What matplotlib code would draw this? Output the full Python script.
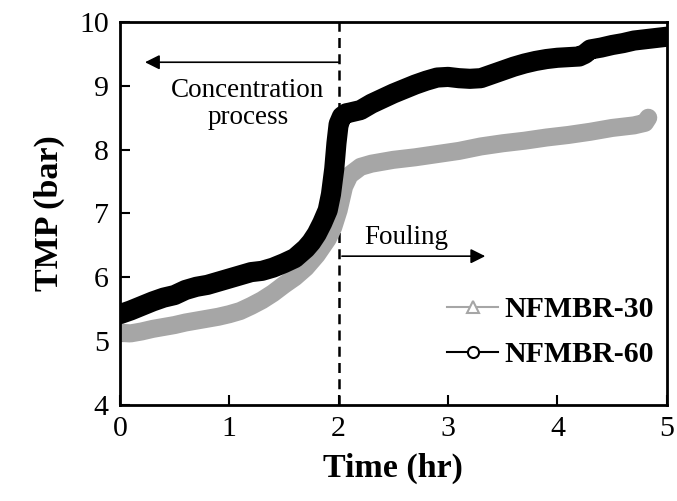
import matplotlib
matplotlib.use("Agg")
import matplotlib.pyplot as plt
from matplotlib.lines import Line2D

plt.rcParams['font.family'] = ['Liberation Serif', 'DejaVu Serif']

# NFMBR-30 transmembrane pressure (bar) vs time (hr)
time_30 = [0.0, 0.1, 0.2, 0.3, 0.4, 0.5, 0.6, 0.7, 0.8, 0.9, 1.0, 1.1, 1.2, 1.3,
           1.4, 1.5, 1.6, 1.7, 1.8, 1.9, 1.95, 2.0, 2.05, 2.1, 2.2, 2.3, 2.5,
           2.7, 2.9, 3.1, 3.3, 3.5, 3.7, 3.9, 4.1, 4.3, 4.5, 4.7, 4.8, 4.83]
tmp_30 = [5.13, 5.12, 5.15, 5.19, 5.22, 5.25, 5.29, 5.32, 5.35, 5.38, 5.42, 5.47,
          5.55, 5.64, 5.75, 5.88, 6.00, 6.15, 6.35, 6.60, 6.78, 7.05, 7.42, 7.60,
          7.73, 7.78, 7.84, 7.88, 7.93, 7.98, 8.05, 8.10, 8.14, 8.19, 8.23, 8.28,
          8.34, 8.38, 8.42, 8.50]

# NFMBR-60 transmembrane pressure (bar) vs time (hr)
time_60 = [0.0, 0.1, 0.2, 0.3, 0.4, 0.5, 0.6, 0.7, 0.8, 0.9, 1.0, 1.1, 1.2, 1.3,
           1.4, 1.5, 1.6, 1.7, 1.75, 1.8, 1.85, 1.9, 1.93, 1.96, 1.98, 2.0, 2.03,
           2.07, 2.1, 2.2, 2.3, 2.4, 2.5, 2.6, 2.7, 2.8, 2.9, 3.0, 3.1, 3.2, 3.3,
           3.4, 3.5, 3.6, 3.7, 3.8, 3.9, 4.0, 4.1, 4.2, 4.25, 4.3, 4.4, 4.5, 4.6,
           4.7, 4.8, 4.9, 5.0]
tmp_60 = [5.42, 5.48, 5.55, 5.62, 5.68, 5.72, 5.80, 5.85, 5.88, 5.93, 5.98, 6.03,
          6.08, 6.10, 6.15, 6.22, 6.30, 6.45, 6.55, 6.68, 6.85, 7.05, 7.30, 7.70,
          8.10, 8.40, 8.52, 8.57, 8.58, 8.62, 8.72, 8.80, 8.88, 8.95, 9.02, 9.08,
          9.13, 9.14, 9.12, 9.11, 9.12, 9.18, 9.24, 9.30, 9.35, 9.39, 9.42, 9.44,
          9.45, 9.46, 9.50, 9.57, 9.60, 9.64, 9.67, 9.71, 9.73, 9.75, 9.77]

x_ticks = [0, 1, 2, 3, 4, 5]
y_ticks = [4, 5, 6, 7, 8, 9, 10]

gray = '#a6a6a6'

fig = plt.figure(figsize=(6.77, 5.01), dpi=100)
ax = fig.add_axes([0.177, 0.192, 0.808, 0.764])

ax.plot(time_30, tmp_30, color=gray, lw=13, solid_capstyle='round',
        solid_joinstyle='round', zorder=2)
ax.plot(time_60, tmp_60, color='black', lw=14.5, solid_capstyle='round',
        solid_joinstyle='round', zorder=3)

ax.axvline(2, color='black', lw=1.8, ls=(0, (4, 2.5)), zorder=1)

ax.set_xlim(0, 5)
ax.set_ylim(4, 10)
ax.set_xticks(x_ticks)
ax.set_yticks(y_ticks)
ax.tick_params(direction='in', length=7, width=1.5, labelsize=21.5, pad=8)
for s in ax.spines.values():
    s.set_linewidth(2)

ax.set_xlabel('Time (hr)', fontsize=24.5, fontweight='bold', labelpad=8)
ax.set_ylabel('TMP (bar)', fontsize=24.5, fontweight='bold', labelpad=10)

# Phase annotations
ax.annotate('', xy=(0.23, 9.37), xytext=(2.0, 9.37),
            arrowprops=dict(arrowstyle='-|>', color='black', lw=1.2,
                            mutation_scale=22, shrinkA=0, shrinkB=0))
ax.text(1.17, 8.72, 'Concentration\nprocess', ha='center', va='center',
        fontsize=19.5, linespacing=1.1)
ax.annotate('', xy=(3.34, 6.33), xytext=(2.03, 6.33),
            arrowprops=dict(arrowstyle='-|>', color='black', lw=1.2,
                            mutation_scale=22, shrinkA=0, shrinkB=0))
ax.text(2.62, 6.63, 'Fouling', ha='center', va='center', fontsize=19.5)

handles = [
    Line2D([], [], color=gray, lw=1.5, marker='^', ms=8, mfc='white',
           mec=gray, mew=1.5),
    Line2D([], [], color='black', lw=1.5, marker='o', ms=8, mfc='white',
           mec='black', mew=1.5),
]
ax.legend(handles, ['NFMBR-30', 'NFMBR-60'], loc='lower right',
          bbox_to_anchor=(1.025, 0.025), frameon=False, handlelength=1.7,
          handletextpad=0.2, labelspacing=0.6,
          prop={'family': 'Liberation Serif', 'weight': 'bold', 'size': 21.5})

fig.savefig('out.png', dpi=100)
